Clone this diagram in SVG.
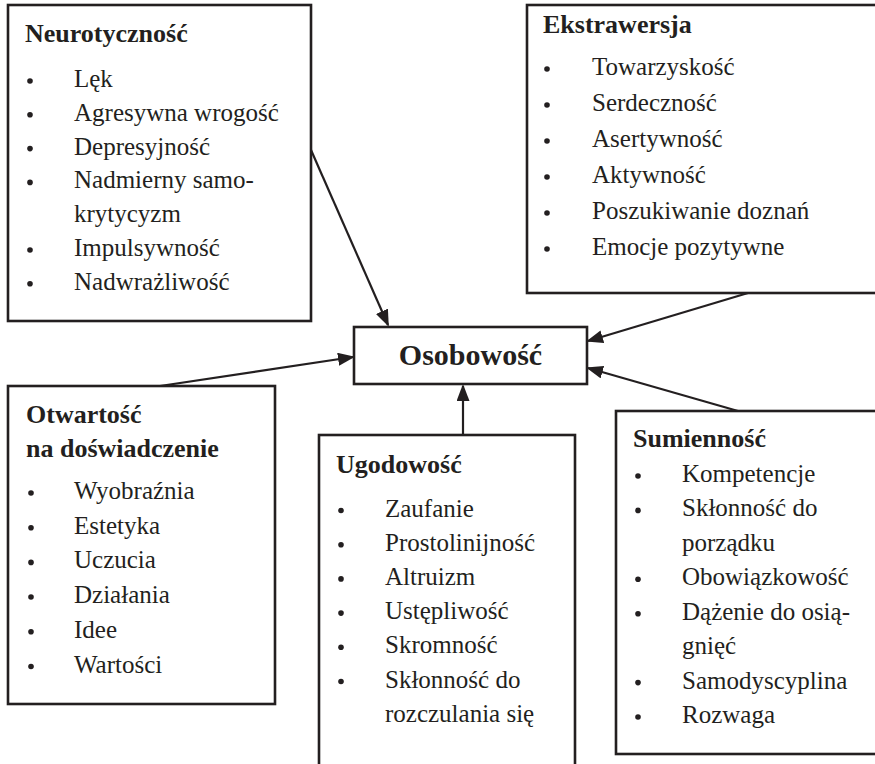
<svg xmlns="http://www.w3.org/2000/svg" width="875" height="764" viewBox="0 0 875 764">
<defs>
<style>
.box{fill:#fff;stroke:#231f20;stroke-width:2.6}
.t{font-family:"Liberation Serif","Times New Roman",serif;font-size:25px;fill:#231f20}
.h{font-family:"Liberation Serif","Times New Roman",serif;font-size:26px;font-weight:bold;fill:#231f20}
.c{font-family:"Liberation Serif","Times New Roman",serif;font-size:30px;font-weight:bold;fill:#231f20;text-anchor:middle}
.b{fill:#231f20}
.con{stroke:#231f20;stroke-width:2.2;fill:none;marker-end:url(#ah)}
</style>
<marker id="ah" markerUnits="userSpaceOnUse" markerWidth="18" markerHeight="14" refX="15" refY="6.5" orient="auto">
<path d="M0,0 L17,6.5 L0,13 z" fill="#231f20"/>
</marker>
</defs>
<rect width="875" height="764" fill="#fff"/>

<g id="connectors">
<line class="con" x1="311" y1="150" x2="388" y2="325"/>
<line class="con" x1="160" y1="386" x2="353" y2="357"/>
<line class="con" x1="463" y1="435" x2="463" y2="386"/>
<line class="con" x1="748" y1="293" x2="588" y2="341"/>
<line class="con" x1="738" y1="411" x2="588" y2="368"/>
</g>

<g id="osobowosc">
<rect class="box" x="354" y="327" width="233" height="57"/>
<text class="c" x="470.5" y="365">Osobowość</text>
</g>

<g id="neurotycznosc">
<rect class="box" x="8" y="5" width="303" height="316"/>
<text class="h" x="25" y="42">Neurotyczność</text>
<circle class="b" cx="30" cy="81" r="2.8"/><text class="t" x="74" y="87">Lęk</text>
<circle class="b" cx="30" cy="114.8" r="2.8"/><text class="t" x="74" y="120.8">Agresywna wrogość</text>
<circle class="b" cx="30" cy="148.6" r="2.8"/><text class="t" x="74" y="154.6">Depresyjność</text>
<circle class="b" cx="30" cy="182.4" r="2.8"/><text class="t" x="74" y="188.4">Nadmierny samo-</text>
<text class="t" x="74" y="222.2">krytycyzm</text>
<circle class="b" cx="30" cy="250" r="2.8"/><text class="t" x="74" y="256">Impulsywność</text>
<circle class="b" cx="30" cy="283.8" r="2.8"/><text class="t" x="74" y="289.8">Nadwrażliwość</text>
</g>

<g id="ekstrawersja">
<rect class="box" x="527" y="5" width="360" height="288"/>
<text class="h" x="543" y="33">Ekstrawersja</text>
<circle class="b" cx="547" cy="69" r="2.8"/><text class="t" x="592" y="75">Towarzyskość</text>
<circle class="b" cx="547" cy="105" r="2.8"/><text class="t" x="592" y="111">Serdeczność</text>
<circle class="b" cx="547" cy="141" r="2.8"/><text class="t" x="592" y="147">Asertywność</text>
<circle class="b" cx="547" cy="177" r="2.8"/><text class="t" x="592" y="183">Aktywność</text>
<circle class="b" cx="547" cy="213" r="2.8"/><text class="t" x="592" y="219">Poszukiwanie doznań</text>
<circle class="b" cx="547" cy="249" r="2.8"/><text class="t" x="592" y="255">Emocje pozytywne</text>
</g>

<g id="otwartosc">
<rect class="box" x="8" y="386" width="267" height="318"/>
<text class="h" x="26" y="423">Otwartość</text>
<text class="h" x="26" y="457">na doświadczenie</text>
<circle class="b" cx="31" cy="493" r="2.8"/><text class="t" x="74" y="499">Wyobraźnia</text>
<circle class="b" cx="31" cy="527.7" r="2.8"/><text class="t" x="74" y="533.7">Estetyka</text>
<circle class="b" cx="31" cy="562.4" r="2.8"/><text class="t" x="74" y="568.4">Uczucia</text>
<circle class="b" cx="31" cy="597" r="2.8"/><text class="t" x="74" y="603">Działania</text>
<circle class="b" cx="31" cy="631.8" r="2.8"/><text class="t" x="74" y="637.8">Idee</text>
<circle class="b" cx="31" cy="666.5" r="2.8"/><text class="t" x="74" y="672.5">Wartości</text>
</g>

<g id="ugodowosc">
<rect class="box" x="319" y="435" width="256" height="340"/>
<text class="h" x="336" y="473">Ugodowość</text>
<circle class="b" cx="341" cy="510.5" r="2.8"/><text class="t" x="385" y="516.5">Zaufanie</text>
<circle class="b" cx="341" cy="544.7" r="2.8"/><text class="t" x="385" y="550.7">Prostolinijność</text>
<circle class="b" cx="341" cy="578.9" r="2.8"/><text class="t" x="385" y="584.9">Altruizm</text>
<circle class="b" cx="341" cy="613.1" r="2.8"/><text class="t" x="385" y="619.1">Ustępliwość</text>
<circle class="b" cx="341" cy="647.3" r="2.8"/><text class="t" x="385" y="653.3">Skromność</text>
<circle class="b" cx="341" cy="681.5" r="2.8"/><text class="t" x="385" y="687.5">Skłonność do</text>
<text class="t" x="385" y="721.7">rozczulania się</text>
</g>

<g id="sumiennosc">
<rect class="box" x="616" y="411" width="270" height="343"/>
<text class="h" x="633" y="447">Sumienność</text>
<circle class="b" cx="638" cy="476" r="2.8"/><text class="t" x="682" y="482">Kompetencje</text>
<circle class="b" cx="638" cy="510.4" r="2.8"/><text class="t" x="682" y="516.4">Skłonność do</text>
<text class="t" x="682" y="550.9">porządku</text>
<circle class="b" cx="638" cy="579.3" r="2.8"/><text class="t" x="682" y="585.3">Obowiązkowość</text>
<circle class="b" cx="638" cy="613.7" r="2.8"/><text class="t" x="682" y="619.7">Dążenie do osią-</text>
<text class="t" x="682" y="654.1">gnięć</text>
<circle class="b" cx="638" cy="682.6" r="2.8"/><text class="t" x="682" y="688.6">Samodyscyplina</text>
<circle class="b" cx="638" cy="717" r="2.8"/><text class="t" x="682" y="723">Rozwaga</text>
</g>
</svg>
